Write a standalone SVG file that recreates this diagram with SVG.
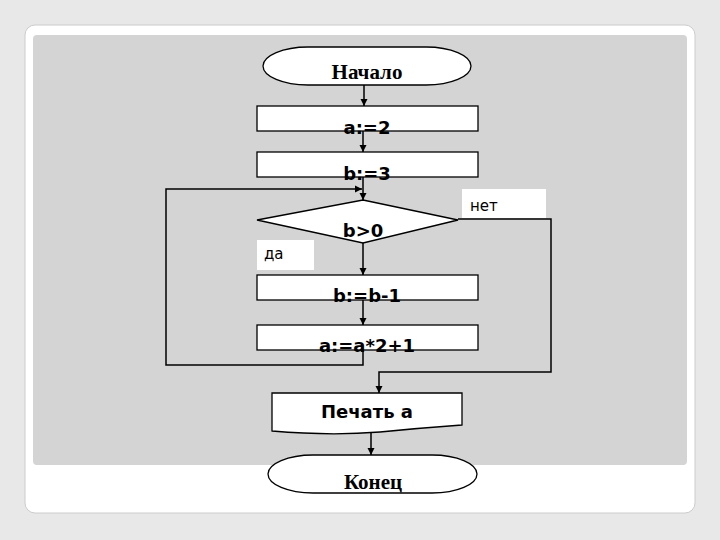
<svg xmlns="http://www.w3.org/2000/svg" width="720" height="540" viewBox="0 0 720 540">
<defs>
<marker id="ar" viewBox="0 0 10 10" refX="10" refY="5" markerWidth="5" markerHeight="5" orient="auto"><path d="M0,0 L10,5 L0,10 z" fill="#000"/></marker>
<style>
.b{fill:#fff;stroke:#000;stroke-width:1.3}
.t{font-family:"DejaVu Sans","Open Sans",sans-serif;font-weight:bold;font-size:18px;text-anchor:middle}
.s{font-family:"Liberation Serif",serif;font-weight:bold;font-size:21px;text-anchor:middle}
.l{font-family:"DejaVu Sans",sans-serif;font-size:15px}
.c{fill:none;stroke:#000;stroke-width:1.5}
</style>
</defs>
<rect width="720" height="540" fill="#e8e8e8"/>
<rect x="25" y="25" width="670" height="488" rx="10" fill="#fff" stroke="#ccc"/>
<rect x="33" y="35" width="654" height="430" rx="4" fill="#d4d4d4"/>
<g id="start"><rect class="b" x="263" y="47" width="208" height="38" rx="45" ry="19"/><text class="s" x="367" y="79">Начало</text></g>
<g id="a2"><rect class="b" x="257" y="106" width="221" height="25"/><text class="t" x="367" y="134">a:=2</text></g>
<g id="b3"><rect class="b" x="257" y="152" width="221" height="25"/><text class="t" x="367" y="180">b:=3</text></g>
<g id="cond"><polygon class="b" points="363,200 458,220 363,243 257,220"/><text class="t" x="363" y="237">b&gt;0</text></g>
<g id="yes"><rect x="257" y="240" width="57" height="30" fill="#fff"/><text class="l" x="264" y="259">да</text></g>
<g id="no"><rect x="462" y="189" width="84" height="29" fill="#fff"/><text class="l" x="470" y="211">нет</text></g>
<g id="bdec"><rect class="b" x="257" y="275" width="221" height="25"/><text class="t" x="367" y="302">b:=b-1</text></g>
<g id="acalc"><rect class="b" x="257" y="325" width="221" height="25"/><text class="t" x="367" y="352">a:=a*2+1</text></g>
<g id="print"><path class="b" d="M272,393 H462 V425 Q420,428 380,432 Q330,436 272,431 Z"/><text class="t" x="367" y="418">Печать а</text></g>
<g id="end"><rect class="b" x="268" y="455" width="209" height="38" rx="45" ry="19"/><text class="s" x="373" y="489">Конец</text></g>
<g id="connectors">
<line class="c" x1="364" y1="85" x2="364" y2="106" marker-end="url(#ar)"/>
<line class="c" x1="363" y1="131" x2="363" y2="152" marker-end="url(#ar)"/>
<line class="c" x1="363" y1="177" x2="363" y2="200" marker-end="url(#ar)"/>
<line class="c" x1="363" y1="243" x2="363" y2="275" marker-end="url(#ar)"/>
<line class="c" x1="363" y1="300" x2="363" y2="325" marker-end="url(#ar)"/>
<polyline class="c" points="363,350 363,365 166,365 166,189 362,189" marker-end="url(#ar)"/>
<polyline class="c" points="458,219 551,219 551,372 379,372 379,393" marker-end="url(#ar)"/>
<line class="c" x1="371" y1="432" x2="371" y2="455" marker-end="url(#ar)"/>
</g>
</svg>
